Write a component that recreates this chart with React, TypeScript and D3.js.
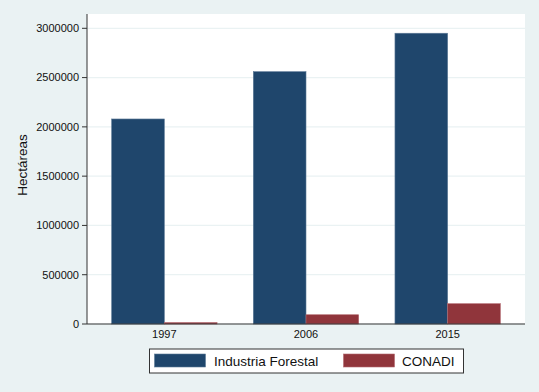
import React from "react";
import * as d3 from "d3";

const years = ["1997", "2006", "2015"];
const industriaForestal = [2080000, 2560000, 2950000];
const conadi = [15000, 94000, 206000];
const yTicks = [0, 500000, 1000000, 1500000, 2000000, 2500000, 3000000];
const seriesNames = ["Industria Forestal", "CONADI"];

const W = 539;
const H = 392;
const BG = "#EAF2F3";
const NAVY = "#1f466c";
const MAROON = "#90353b";
const FONT = "'Liberation Sans', Arial, Helvetica, sans-serif";

export default function App() {
  const left = 87, right = 525, top = 14, bottom = 324;
  const y = d3.scaleLinear().domain([0, 3000000]).range([bottom, 28.3]);
  const x0 = d3
    .scaleBand<string>()
    .domain(years)
    .range([left, right])
    .paddingInner(0.256)
    .paddingOuter(0.174);
  const x1 = d3
    .scaleBand<string>()
    .domain(seriesNames)
    .range([0, x0.bandwidth()]);
  const colors = [NAVY, MAROON];
  const strokes = ["#5d7a97", "#b36a70"];
  const series = [industriaForestal, conadi];

  return (
    <svg
      width={W}
      height={H}
      style={{ position: "absolute", left: 0, top: 0, display: "block" }}
      fontFamily={FONT}
    >
      <rect x={0} y={0} width={W} height={H} fill={BG} />
      <rect x={left} y={top} width={right - left} height={bottom - top} fill="#ffffff" />
      {yTicks.map((t) => (
        <line
          key={"g" + t}
          x1={left}
          x2={right}
          y1={y(t)}
          y2={y(t)}
          stroke={BG}
          strokeWidth={1.2}
        />
      ))}
      {years.map((yr, i) =>
        series.map((s, j) => (
          <rect
            key={yr + j}
            x={(x0(yr) as number) + (x1(seriesNames[j]) as number)}
            y={y(s[i])}
            width={x1.bandwidth()}
            height={bottom - y(s[i])}
            fill={colors[j]}
            stroke={strokes[j]}
            strokeWidth={0.6}
          />
        ))
      )}
      <line x1={left} x2={left} y1={top} y2={bottom} stroke="#333" strokeWidth={1} />
      <line x1={left} x2={right} y1={bottom} y2={bottom} stroke="#333" strokeWidth={1} />
      {yTicks.map((t) => (
        <g key={"t" + t}>
          <line x1={left - 5} x2={left} y1={y(t)} y2={y(t)} stroke="#333" strokeWidth={1} />
          <text
            x={left - 8}
            y={y(t)}
            dy="0.35em"
            textAnchor="end"
            fontSize={11}
            fill="#111"
          >
            {t}
          </text>
        </g>
      ))}
      {years.map((yr) => (
        <text
          key={"x" + yr}
          x={(x0(yr) as number) + x0.bandwidth() / 2}
          y={334}
          dy="0.35em"
          textAnchor="middle"
          fontSize={11}
          fill="#111"
        >
          {yr}
        </text>
      ))}
      <text
        transform={`translate(22,165) rotate(-90)`}
        textAnchor="middle"
        dy="0.35em"
        fontSize={13.5}
        fill="#111"
      >
        Hectáreas
      </text>
      <rect x={149.5} y={349} width={314} height={24} fill="#ffffff" stroke="#333" strokeWidth={1} />
      <rect x={154.5} y={354} width={51} height={13} fill={NAVY} stroke={strokes[0]} strokeWidth={0.6} />
      <text x={214} y={361} dy="0.35em" fontSize={13.5} fill="#111">
        {seriesNames[0]}
      </text>
      <rect x={343.5} y={354} width={51} height={13} fill={MAROON} stroke={strokes[1]} strokeWidth={0.6} />
      <text x={402} y={361} dy="0.35em" fontSize={13.5} fill="#111">
        {seriesNames[1]}
      </text>
    </svg>
  );
}
